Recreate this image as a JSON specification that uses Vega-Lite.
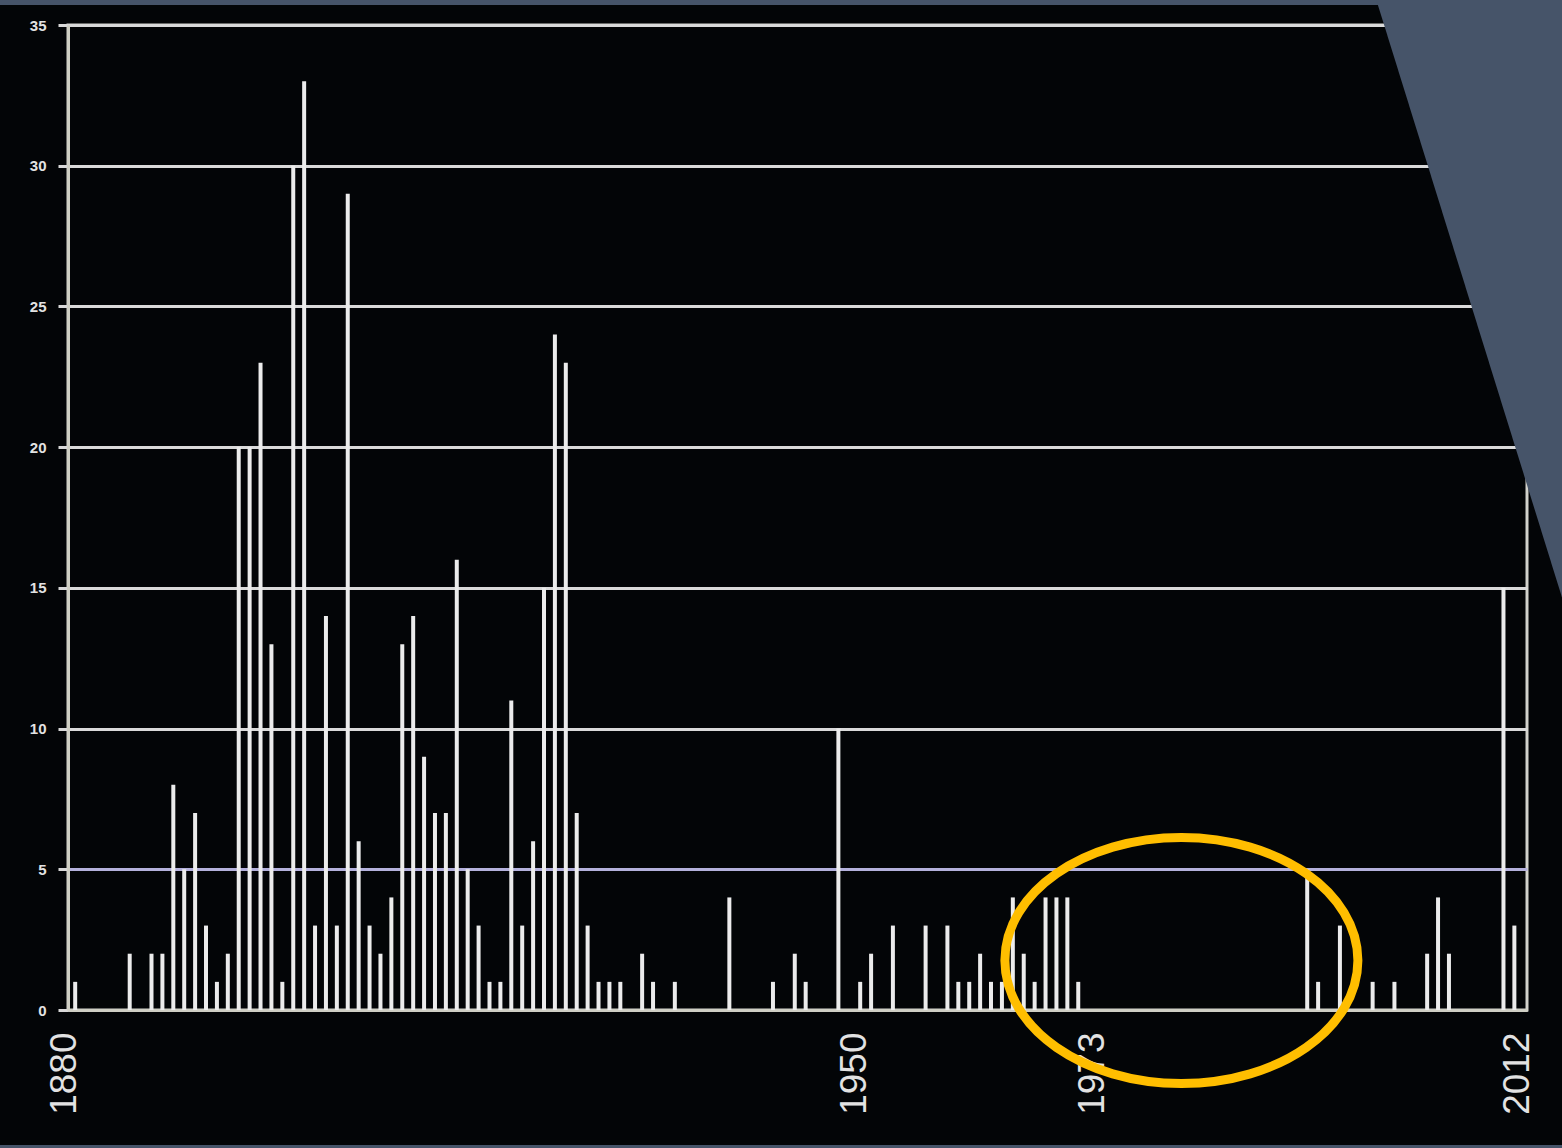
{
  "$schema": "https://vega.github.io/schema/vega-lite/v6.json",
  "width": 1459,
  "height": 985,
  "autosize": {"type": "none"},
  "padding": {"left": 68, "top": 25, "right": 35, "bottom": 138},
  "background": "#030507",
  "config": {
    "view": {"stroke": "#d2d2cc", "strokeWidth": 3, "fill": null},
    "axis": {"domainColor": "#cfcfc4", "domainWidth": 3, "labelColor": "#e2e2e2", "grid": false}
  },
  "datasets": {
    "counts": [
      {"year": 1880, "count": 1}, {"year": 1885, "count": 2}, {"year": 1887, "count": 2}, {"year": 1888, "count": 2},
      {"year": 1889, "count": 8}, {"year": 1890, "count": 5}, {"year": 1891, "count": 7}, {"year": 1892, "count": 3},
      {"year": 1893, "count": 1}, {"year": 1894, "count": 2}, {"year": 1895, "count": 20}, {"year": 1896, "count": 20},
      {"year": 1897, "count": 23}, {"year": 1898, "count": 13}, {"year": 1899, "count": 1}, {"year": 1900, "count": 30},
      {"year": 1901, "count": 33}, {"year": 1902, "count": 3}, {"year": 1903, "count": 14}, {"year": 1904, "count": 3},
      {"year": 1905, "count": 29}, {"year": 1906, "count": 6}, {"year": 1907, "count": 3}, {"year": 1908, "count": 2},
      {"year": 1909, "count": 4}, {"year": 1910, "count": 13}, {"year": 1911, "count": 14}, {"year": 1912, "count": 9},
      {"year": 1913, "count": 7}, {"year": 1914, "count": 7}, {"year": 1915, "count": 16}, {"year": 1916, "count": 5},
      {"year": 1917, "count": 3}, {"year": 1918, "count": 1}, {"year": 1919, "count": 1}, {"year": 1920, "count": 11},
      {"year": 1921, "count": 3}, {"year": 1922, "count": 6}, {"year": 1923, "count": 15}, {"year": 1924, "count": 24},
      {"year": 1925, "count": 23}, {"year": 1926, "count": 7}, {"year": 1927, "count": 3}, {"year": 1928, "count": 1},
      {"year": 1929, "count": 1}, {"year": 1930, "count": 1}, {"year": 1932, "count": 2}, {"year": 1933, "count": 1},
      {"year": 1935, "count": 1}, {"year": 1940, "count": 4}, {"year": 1944, "count": 1}, {"year": 1946, "count": 2},
      {"year": 1947, "count": 1}, {"year": 1950, "count": 10}, {"year": 1952, "count": 1}, {"year": 1953, "count": 2},
      {"year": 1955, "count": 3}, {"year": 1958, "count": 3}, {"year": 1960, "count": 3}, {"year": 1961, "count": 1},
      {"year": 1962, "count": 1}, {"year": 1963, "count": 2}, {"year": 1964, "count": 1}, {"year": 1965, "count": 1},
      {"year": 1966, "count": 4}, {"year": 1967, "count": 2}, {"year": 1968, "count": 1}, {"year": 1969, "count": 4},
      {"year": 1970, "count": 4}, {"year": 1971, "count": 4}, {"year": 1972, "count": 1}, {"year": 1993, "count": 5},
      {"year": 1994, "count": 1}, {"year": 1996, "count": 3}, {"year": 1999, "count": 1}, {"year": 2001, "count": 1},
      {"year": 2004, "count": 2}, {"year": 2005, "count": 4}, {"year": 2006, "count": 2}, {"year": 2011, "count": 15},
      {"year": 2012, "count": 3}
    ],
    "slide": [
      {"sx": 1998.77, "sy": 36.6},
      {"sx": 2016.44, "sy": 14.57}
    ],
    "one": [{}]
  },
  "layer": [
    {
      "data": {"name": "counts"},
      "mark": {"type": "bar", "size": 4, "color": "#ececec", "clip": false},
      "encoding": {
        "x": {
          "field": "year", "type": "quantitative", "title": null,
          "scale": {"domain": [1879.8, 2012.7], "nice": false, "zero": false},
          "axis": {
            "values": [1880, 1950, 1973, 2012], "format": "d", "labelAngle": -90,
            "labelFont": "Liberation Sans", "labelFontSize": 37, "labelPadding": 22,
            "labelOffset": {"condition": [{"test": "datum.value === 1880", "value": -11}, {"test": "datum.value === 1950", "value": 16}], "value": 3},
            "ticks": false, "grid": false, "labelFlush": false, "labelOverlap": false
          }
        },
        "y": {
          "field": "count", "type": "quantitative", "title": null,
          "scale": {"domain": [0, 35], "nice": false},
          "axis": {
            "values": [0, 5, 10, 15, 20, 25, 30, 35],
            "labelFont": "Liberation Sans", "labelFontSize": 15, "labelFontWeight": "bold",
            "labelPadding": 12, "tickSize": 10, "tickWidth": 3, "tickColor": "#d8d8d8",
            "grid": true, "gridWidth": 3,
            "gridColor": {"condition": {"test": "datum.value === 5", "value": "#b4b1dc"}, "value": "#dadada"},
            "labelFlush": false, "labelOverlap": false
          }
        }
      }
    },
    {
      "data": {"name": "one"},
      "mark": {"type": "rect", "color": "#465469", "clip": false},
      "encoding": {
        "x": {"datum": 1870, "type": "quantitative", "title": null, "scale": {"domain": [1879.8, 2012.7], "nice": false, "zero": false}},
        "x2": {"datum": 2030},
        "y": {"datum": 35.71, "type": "quantitative", "title": null, "scale": {"domain": [0, 35], "nice": false}},
        "y2": {"datum": 45}
      }
    },
    {
      "data": {"name": "one"},
      "mark": {"type": "rect", "color": "#465469", "clip": false},
      "encoding": {
        "x": {"datum": 1870, "type": "quantitative", "title": null, "scale": {"domain": [1879.8, 2012.7], "nice": false, "zero": false}},
        "x2": {"datum": 2030},
        "y": {"datum": -4.8, "type": "quantitative", "title": null, "scale": {"domain": [0, 35], "nice": false}},
        "y2": {"datum": -7}
      }
    },
    {
      "data": {"name": "slide"},
      "mark": {"type": "area", "color": "#465469", "opacity": 1, "clip": false},
      "encoding": {
        "x": {"field": "sx", "type": "quantitative", "title": null, "scale": {"domain": [1879.8, 2012.7], "nice": false, "zero": false}},
        "y": {"field": "sy", "type": "quantitative", "title": null, "scale": {"domain": [0, 35], "nice": false}},
        "y2": {"datum": 45}
      }
    },
    {
      "data": {"name": "one"},
      "mark": {
        "type": "point",
        "shape": "M -1 0 A 1 0.697 0 1 0 1 0 A 1 0.697 0 1 0 -1 0 Z",
        "filled": false, "stroke": "#FFBE00", "strokeWidth": 9, "size": 124609, "opacity": 1, "clip": false
      },
      "encoding": {
        "x": {"datum": 1981.46, "type": "quantitative", "title": null, "scale": {"domain": [1879.8, 2012.7], "nice": false, "zero": false}},
        "y": {"datum": 1.76, "type": "quantitative", "title": null, "scale": {"domain": [0, 35], "nice": false}}
      }
    }
  ]
}
